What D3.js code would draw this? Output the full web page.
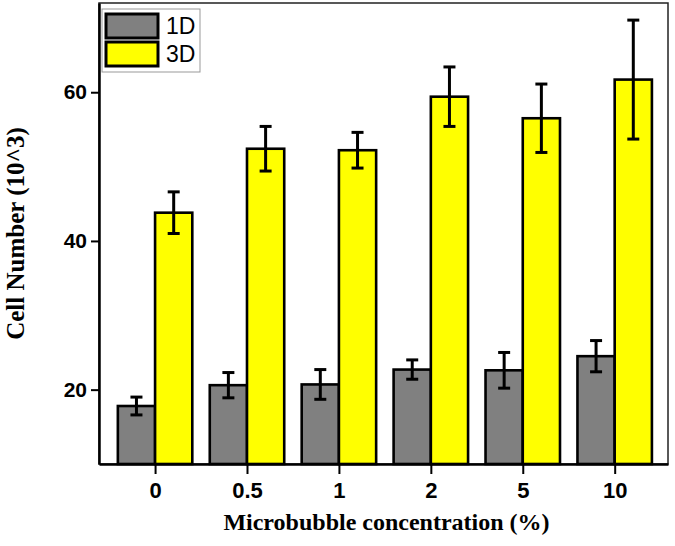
<!DOCTYPE html>
<html>
<head>
<meta charset="utf-8">
<script src="https://cdn.jsdelivr.net/npm/d3@7"></script>
<style>
  html, body { margin: 0; padding: 0; background: #fff; }
  svg { display: block; }
</style>
</head>
<body>
<svg id="chart" width="675" height="546"></svg>
<script>
const categories = ["0", "0.5", "1", "2", "5", "10"];
const series = ["1D", "3D"];
const values1D = [17.8, 20.6, 20.7, 22.7, 22.6, 24.5];
const errors1D = [1.2, 1.7, 2.0, 1.3, 2.4, 2.1];
const values3D = [43.8, 52.4, 52.2, 59.4, 56.5, 61.7];
const errors3D = [2.8, 3.0, 2.4, 4.0, 4.6, 8.0];
const yTicks = [20, 40, 60];
const colors = ["#808080", "#ffff00"];

const svg = d3.select("#chart");
const mLeft = 99, mRight = 668, mTop = 3, mBottom = 464;

const x = d3.scaleLinear().domain([-0.61, categories.length - 0.42]).range([mLeft, mRight]);
const y = d3.scaleLinear().domain([10, 72]).range([mBottom, mTop]);
const half = 0.405;

// frame (top/right)
svg.append("rect").attr("x", mLeft).attr("y", mTop).attr("width", mRight - mLeft).attr("height", mBottom - mTop)
  .attr("fill", "none").attr("stroke", "#222").attr("stroke-width", 1.5);

const groups = [
  { vals: values1D, errs: errors1D, off: -half, color: colors[0] },
  { vals: values3D, errs: errors3D, off: 0, color: colors[1] }
];

groups.forEach(g => {
  svg.append("g").selectAll("rect").data(g.vals).join("rect")
    .attr("x", (d, i) => x(i + g.off))
    .attr("width", (d, i) => x(i + g.off + half) - x(i + g.off))
    .attr("y", d => y(d))
    .attr("height", d => y(10) - y(d))
    .attr("fill", g.color).attr("stroke", "#000").attr("stroke-width", 2.6);
});

groups.forEach(g => {
  const eg = svg.append("g").attr("stroke", "#000").attr("stroke-width", 3);
  g.vals.forEach((d, i) => {
    const cx = x(i + g.off + half / 2);
    eg.append("line").attr("x1", cx).attr("x2", cx).attr("y1", y(d + g.errs[i])).attr("y2", y(d - g.errs[i]));
    eg.append("line").attr("x1", cx - 6).attr("x2", cx + 6).attr("y1", y(d + g.errs[i])).attr("y2", y(d + g.errs[i]));
    eg.append("line").attr("x1", cx - 6).attr("x2", cx + 6).attr("y1", y(d - g.errs[i])).attr("y2", y(d - g.errs[i]));
  });
});

// axes
const xAxis = d3.axisBottom(x).tickValues(d3.range(categories.length)).tickFormat(i => categories[i])
  .tickSizeInner(10).tickSizeOuter(0).tickPadding(8);
const gx = svg.append("g").attr("transform", `translate(0,${mBottom})`).call(xAxis);
gx.select(".domain").attr("stroke", "#000").attr("stroke-width", 2.5);
gx.selectAll(".tick line").attr("stroke", "#000").attr("stroke-width", 2);
gx.selectAll("text").attr("font-family", "Liberation Sans, Arial, sans-serif").attr("font-weight", "bold")
  .attr("font-size", 22).attr("fill", "#000");

const yAxis = d3.axisLeft(y).tickValues(yTicks).tickSizeInner(8).tickSizeOuter(0).tickPadding(4);
const gy = svg.append("g").attr("transform", `translate(${mLeft},0)`).call(yAxis);
gy.select(".domain").attr("stroke", "#000").attr("stroke-width", 2.5);
gy.selectAll(".tick line").attr("stroke", "#000").attr("stroke-width", 2);
gy.selectAll("text").attr("font-family", "Liberation Sans, Arial, sans-serif").attr("font-weight", "bold")
  .attr("font-size", 21).attr("fill", "#000");

// titles
svg.append("text").attr("x", (mLeft + mRight) / 2 + 3).attr("y", 530).attr("text-anchor", "middle")
  .attr("font-family", "Liberation Serif, Times New Roman, serif").attr("font-weight", "bold").attr("font-size", 24)
  .attr("fill", "#000").text("Microbubble concentration (%)");
svg.append("text").attr("transform", `translate(24,${(mTop + mBottom) / 2}) rotate(-90)`).attr("text-anchor", "middle")
  .attr("font-family", "Liberation Serif, Times New Roman, serif").attr("font-weight", "bold").attr("font-size", 25)
  .attr("fill", "#000").text("Cell Number (10^3)");

// legend
const lg = svg.append("g");
lg.append("rect").attr("x", 102).attr("y", 9).attr("width", 98).attr("height", 63)
  .attr("fill", "#fff").attr("stroke", "#999").attr("stroke-width", 1);
series.forEach((s, i) => {
  lg.append("rect").attr("x", 106).attr("y", 14 + i * 28).attr("width", 52).attr("height", 24)
    .attr("fill", colors[i]).attr("stroke", "#000").attr("stroke-width", 3);
  lg.append("text").attr("x", 166).attr("y", 34 + i * 28)
    .attr("font-family", "Liberation Sans, Arial, sans-serif").attr("font-size", 23).attr("fill", "#000").text(s);
});
</script>
</body>
</html>
